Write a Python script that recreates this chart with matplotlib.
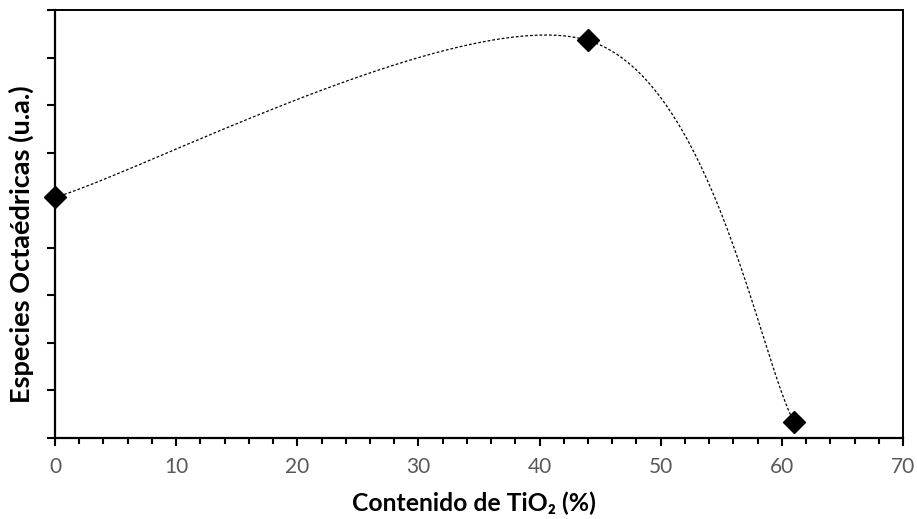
import numpy as np
import matplotlib
matplotlib.use("Agg")
import matplotlib.pyplot as plt
from matplotlib.ticker import MultipleLocator, NullFormatter

# data
tio2 = [0, 44, 61]
octa = [5.06, 8.36, 0.34]
x_ticks = [0, 10, 20, 30, 40, 50, 60, 70]

plt.rcParams['font.family'] = ['Lato', 'DejaVu Sans']

fig = plt.figure(figsize=(9.17, 5.19), dpi=100)
ax = fig.add_axes([55/917, 1-438/519, (903-55)/917, (438-10)/519])
ax.set_xlim(0, 70)
ax.set_ylim(0, 9)

# Excel-like smoothed line computed in display space
fig.canvas.draw()
pts = ax.transData.transform(np.column_stack([tio2, octa]))
n = len(pts)
curve = []
for i in range(n - 1):
    p0 = pts[max(i - 1, 0)]
    p1 = pts[i]
    p2 = pts[i + 1]
    p3 = pts[min(i + 2, n - 1)]
    c1 = p1 + (p2 - p0) / 6.0
    c2 = p2 - (p3 - p1) / 6.0
    t = np.linspace(0, 1, 200)[:, None]
    b = (1 - t) ** 3 * p1 + 3 * (1 - t) ** 2 * t * c1 + 3 * (1 - t) * t ** 2 * c2 + t ** 3 * p2
    curve.append(b)
curve = np.vstack(curve)
cdata = ax.transData.inverted().transform(curve)

ax.plot(cdata[:, 0], cdata[:, 1], color='black', lw=0.9, dashes=(2.2, 1.6), zorder=2)
ax.plot(tio2, octa, linestyle='none', marker='D', markersize=11, color='black', zorder=3, clip_on=False)

ax.set_xticks(x_ticks)
ax.xaxis.set_minor_locator(MultipleLocator(2))
ax.yaxis.set_major_locator(MultipleLocator(1))
ax.yaxis.set_major_formatter(NullFormatter())

ax.tick_params(axis='x', which='major', direction='out', length=6, width=1.5,
               labelsize=15, labelcolor='#595959', pad=8)
ax.tick_params(axis='x', which='minor', direction='out', length=4, width=1.5)
ax.tick_params(axis='y', which='major', direction='out', length=6, width=1.5)

for s in ['left', 'bottom']:
    ax.spines[s].set_linewidth(1.6)
for s in ['top', 'right']:
    ax.spines[s].set_linewidth(1.4)

ax.set_xlabel('Contenido de TiO₂ (%)', fontsize=17.8, fontweight='bold')
ax.xaxis.set_label_coords(0.494, -0.152)
ax.xaxis.label.set_va('center')
ax.set_ylabel('Especies Octaédricas (u.a.)', fontsize=19.5, fontweight='bold')
ax.yaxis.set_label_coords(-0.025, 0.453)

fig.savefig('out.png', dpi=100)
